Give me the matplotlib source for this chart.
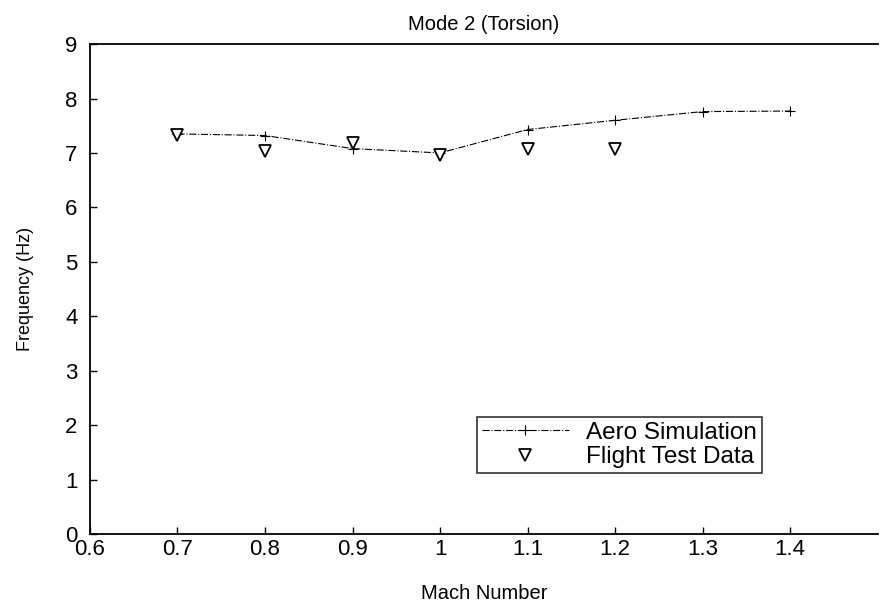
import matplotlib
matplotlib.use("Agg")
import matplotlib.pyplot as plt

plt.rcParams['font.family'] = ['Liberation Sans', 'DejaVu Sans']

# Donnees
mach_aero = [0.7, 0.8, 0.9, 1.0, 1.1, 1.2, 1.3, 1.4]
freq_aero = [7.35, 7.32, 7.08, 7.0, 7.43, 7.6, 7.76, 7.77]

mach_vol = [0.7, 0.8, 0.9, 1.0, 1.1, 1.2]
freq_vol = [7.33, 7.03, 7.18, 6.96, 7.08, 7.08]

xticks = [0.6, 0.7, 0.8, 0.9, 1.0, 1.1, 1.2, 1.3, 1.4]
xtick_labels = ['0.6', '0.7', '0.8', '0.9', '1', '1.1', '1.2', '1.3', '1.4']
yticks = list(range(0, 10))

fig = plt.figure(figsize=(8.82, 6.04), dpi=100)
ax = fig.add_axes([0.102, 0.116, 0.893, 0.811])

ax.plot(mach_aero, freq_aero, linestyle='-.', color='black', linewidth=0.8,
        marker='+', markersize=7, markeredgewidth=0.8, label='Aero Simulation')
ax.plot(mach_vol, freq_vol, linestyle='none', marker='v', markersize=8,
        markerfacecolor='white', markeredgecolor='black', markeredgewidth=1.3,
        label='Flight Test Data')

ax.set_xlim(0.6, 1.5)
ax.set_ylim(0, 9)
ax.set_xticks(xticks)
ax.set_xticklabels(xtick_labels)
ax.set_yticks(yticks)
ax.tick_params(direction='in', labelsize=16, length=5, width=1)
ax.tick_params(axis='y', pad=9)
ax.tick_params(axis='x', pad=4)
ax.spines['right'].set_visible(False)
for s in ['left', 'bottom', 'top']:
    ax.spines[s].set_linewidth(1.3)

ax.set_title('Mode 2 (Torsion)', fontsize=14.5, pad=10)
ax.set_xlabel('Mach Number', fontsize=14.5, labelpad=17)
ax.set_ylabel('Frequency (Hz)', fontsize=13, labelpad=22)

leg = ax.legend(loc='lower left', bbox_to_anchor=(0.491, 0.124), borderaxespad=0,
                fontsize=17.5, frameon=True, fancybox=False, edgecolor='black',
                handlelength=3.6, borderpad=0.2, labelspacing=0.1,
                handletextpad=0.7)
leg.get_frame().set_linewidth(1.2)

plt.savefig('out.png', dpi=100)
plt.close()
